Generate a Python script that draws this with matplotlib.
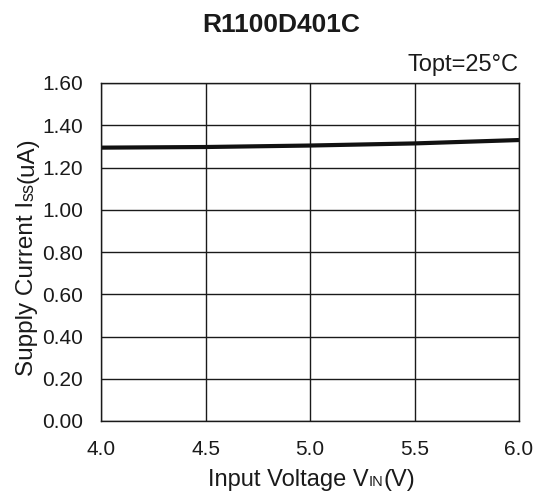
import matplotlib
matplotlib.use("Agg")
import matplotlib.pyplot as plt

plt.rcParams['font.family'] = ['Liberation Sans', 'DejaVu Sans']

vin = [4.0, 4.5, 5.0, 5.5, 6.0]
iss = [1.294, 1.297, 1.304, 1.314, 1.330]
xticks = [4.0, 4.5, 5.0, 5.5, 6.0]
yticks = [0.0, 0.2, 0.4, 0.6, 0.8, 1.0, 1.2, 1.4, 1.6]
title = "R1100D401C"
note = "Topt=25°C"
xlabel_parts = [("Input Voltage V", 17), ("IN", 10.5), ("(V)", 17)]
ylabel_parts = [("Supply Current I", 17.5), ("ss", 13), ("(uA)", 17.5)]

TXT = '#1a1a1a'
W, H = 539, 493
fig = plt.figure(figsize=(W / 100, H / 100), dpi=100)
ax = fig.add_axes([101 / W, 1 - 421 / H, 418 / W, 338 / H])
ax.plot(vin, iss, color='#111111', lw=3.0, solid_capstyle='butt')
ax.set_xlim(4.0, 6.0)
ax.set_ylim(0, 1.6)
ax.set_xticks(xticks)
ax.set_xticklabels([f"{v:.1f}" for v in xticks])
ax.set_yticks(yticks)
ax.set_yticklabels([f"{v:.2f}" for v in yticks])
ax.tick_params(length=0, labelsize=15, colors=TXT)
ax.tick_params(axis='x', pad=14)
ax.tick_params(axis='y', pad=13)
ax.grid(True, color='#1a1a1a', lw=1.0)
for s in ax.spines.values():
    s.set_color('#1a1a1a')
    s.set_linewidth(1.0)

fig.text(281 / W, 1 - 32 / H, title, ha='center', va='baseline', fontsize=19,
         fontweight='bold', color=TXT)
fig.text(518 / W, 1 - 71 / H, note, ha='right', va='baseline', fontsize=17, color=TXT)

fig.canvas.draw()
r = fig.canvas.get_renderer()

def widths(parts):
    out = []
    for t, s in parts:
        tt = fig.text(0, 0, t, fontsize=s)
        out.append(tt.get_window_extent(r).width)
        tt.remove()
    return out

# x label: centered at x=312 px, baseline at y=486 px
ws = widths(xlabel_parts)
pos = 312 - sum(ws) / 2
for (t, s), w in zip(xlabel_parts, ws):
    fig.text(pos / W, 1 - 486 / H, t, fontsize=s, ha='left', va='baseline', color=TXT)
    pos += w

# y label: rotated, centered at y=257 px, baseline at x=33 px
ws = widths(ylabel_parts)
pos = (H - 257) - sum(ws) / 2
for (t, s), w in zip(ylabel_parts, ws):
    fig.text(33 / W, pos / H, t, fontsize=s, rotation=90, ha='left', va='baseline',
             rotation_mode='anchor', color=TXT)
    pos += w

fig.savefig("out.png", dpi=100)
